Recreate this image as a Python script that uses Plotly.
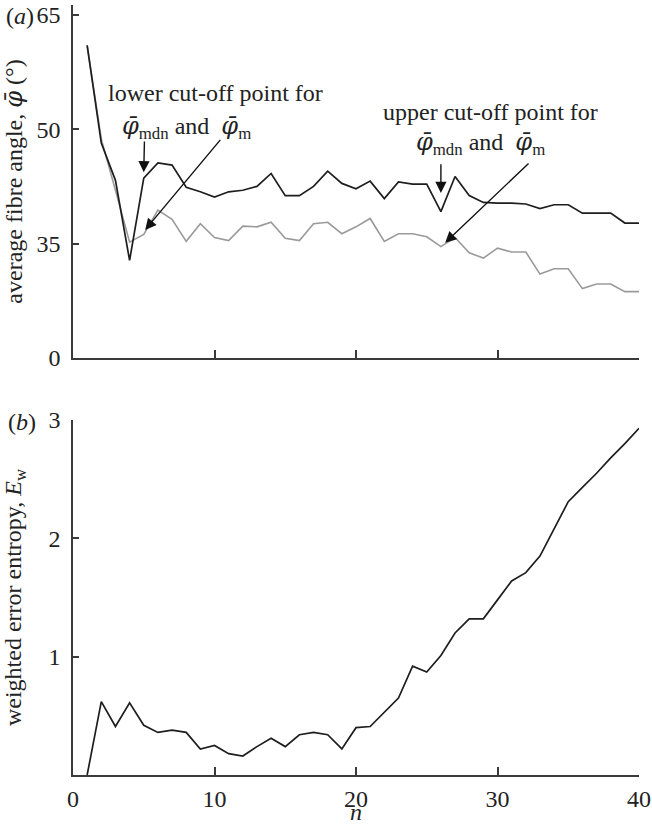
import plotly.graph_objects as go

n = list(range(1, 41))

phi_mdn = [61.0, 48.2, 43.3, 32.8, 43.6, 45.6, 45.3, 42.4, 41.8, 41.1,
           41.8, 42.0, 42.5, 44.2, 41.3, 41.3, 42.5, 44.5, 42.9, 42.2,
           43.2, 40.9, 43.1, 42.8, 42.8, 39.2, 43.8, 41.3, 40.4, 40.3,
           40.3, 40.2, 39.6, 40.1, 40.1, 39.0, 39.0, 39.0, 37.7, 37.7]

phi_m = [61.0, 48.7, 42.0, 35.2, 36.2, 39.4, 38.2, 35.3, 37.6, 35.8,
         35.4, 37.3, 37.2, 37.8, 35.7, 35.4, 37.6, 37.8, 36.3, 37.2,
         38.3, 35.3, 36.3, 36.3, 35.9, 34.6, 35.8, 33.8, 33.1, 34.4,
         33.9, 33.9, 31.0, 31.7, 31.7, 29.1, 29.7, 29.7, 28.7, 28.7]

entropy = [0.0, 0.62, 0.41, 0.61, 0.42, 0.36, 0.38, 0.36, 0.22, 0.25,
           0.18, 0.16, 0.24, 0.31, 0.24, 0.34, 0.36, 0.34, 0.22, 0.40,
           0.41, 0.53, 0.65, 0.92, 0.87, 1.01, 1.20, 1.32, 1.32, 1.48,
           1.64, 1.71, 1.85, 2.08, 2.31, 2.43, 2.55, 2.68, 2.80, 2.93]

top_tickvals = [20, 35, 50, 65]
top_ticktext = ["0", "35", "50", "65"]
bot_tickvals = [1, 2, 3]
x_tickvals = [0, 10, 20, 30, 40]

FONT = "Liberation Serif, Times New Roman, DejaVu Serif, serif"
AX = "#3a3a3a"
TXT = "#222"
FS = 24

PHI = '<span style="font-family:DejaVu Serif"><i>φ̄</i></span>'

fig = go.Figure()
fig.add_trace(go.Scatter(x=n, y=phi_m, mode="lines",
                         line=dict(color="#9a9a9a", width=1.6),
                         xaxis="x", yaxis="y", showlegend=False))
fig.add_trace(go.Scatter(x=n, y=phi_mdn, mode="lines",
                         line=dict(color="#1e1e1e", width=1.7),
                         xaxis="x", yaxis="y", showlegend=False))
fig.add_trace(go.Scatter(x=n, y=entropy, mode="lines",
                         line=dict(color="#1e1e1e", width=1.7),
                         xaxis="x2", yaxis="y2", showlegend=False))

axcommon = dict(showline=True, linecolor=AX, linewidth=1.5, ticks="inside",
                tickcolor=AX, tickwidth=1.5, showgrid=False, zeroline=False,
                automargin=False,
                tickfont=dict(family=FONT, size=FS, color=TXT))

fig.update_layout(
    width=652, height=827,
    margin=dict(l=73, r=13, t=5, b=52, autoexpand=False),
    plot_bgcolor="white", paper_bgcolor="white",
    font=dict(family=FONT, size=FS, color=TXT),
    xaxis=dict(domain=[0, 1], range=[0, 40], anchor="y", tickvals=[10, 20, 30],
               showticklabels=False, ticklen=8, **axcommon),
    yaxis=dict(domain=[0.5416, 1], range=[20, 66.3], anchor="x",
               tickvals=top_tickvals, ticktext=top_ticktext, ticklen=6,
               ticklabelstandoff=6, ticklabeloverflow="allow",
               title=dict(text="average fibre angle, " + PHI + " (°)",
                          font=dict(family=FONT, size=FS, color=TXT), standoff=14),
               **axcommon),
    xaxis2=dict(domain=[0, 1], range=[0, 40], anchor="y2", tickvals=x_tickvals,
                ticklen=8, ticklabelstandoff=1, ticklabeloverflow="allow",
                **axcommon),
    yaxis2=dict(domain=[0, 0.461], range=[0, 3], anchor="x2",
                tickvals=bot_tickvals, ticklen=6, ticklabelstandoff=6,
                ticklabeloverflow="allow",
                title=dict(text="weighted error entropy, <i>E</i><sub>w</sub>",
                           font=dict(family=FONT, size=FS, color=TXT), standoff=22),
                **axcommon),
)

tf = dict(family=FONT, size=24, color=TXT)
phi_line = PHI + "<sub>mdn</sub> and  " + PHI + "<sub>m</sub>"
annots = [
    dict(x=10.1, y=54.7, text="lower cut-off point for", showarrow=False, font=tf),
    dict(x=8.0, y=50.2, text=phi_line, showarrow=False, font=tf),
    dict(x=29.5, y=52.3, text="upper cut-off point for", showarrow=False, font=tf),
    dict(x=28.8, y=48.1, text=phi_line, showarrow=False, font=tf),
]
for a in annots:
    a.update(xref="x", yref="y", xanchor="center", yanchor="middle")
    fig.add_annotation(**a)

arrows = [
    (5.0, 44.35, 5.05, 48.6),
    (5.1, 36.8, 10.5, 48.8),
    (26.0, 41.65, 26.0, 45.6),
    (26.3, 35.1, 32.3, 45.7),
]
for hx, hy, tx, ty in arrows:
    fig.add_annotation(x=hx, y=hy, ax=tx, ay=ty, xref="x", yref="y",
                       axref="x", ayref="y", text="", showarrow=True,
                       arrowhead=2, arrowsize=1.6, arrowwidth=1.4,
                       arrowcolor="#111")

pf = dict(family=FONT, size=FS, color=TXT)
fig.add_annotation(x=(20 - 73) / 566, y=(775 - 16) / 770, xref="paper", yref="paper",
                   text="(<i>a</i>)", showarrow=False, font=pf,
                   xanchor="center", yanchor="middle")
fig.add_annotation(x=(22 - 73) / 566, y=(775 - 422) / 770, xref="paper", yref="paper",
                   text="(<i>b</i>)", showarrow=False, font=pf,
                   xanchor="center", yanchor="middle")
fig.add_annotation(x=20, y=(775 - 827) / 770, xref="x2", yref="paper",
                   text="<i>n</i>", showarrow=False, font=pf,
                   xanchor="center", yanchor="bottom")

fig.write_html("out.html", config={"displayModeBar": False},
               post_script="document.body.style.margin='0';document.body.style.overflow='hidden';")
